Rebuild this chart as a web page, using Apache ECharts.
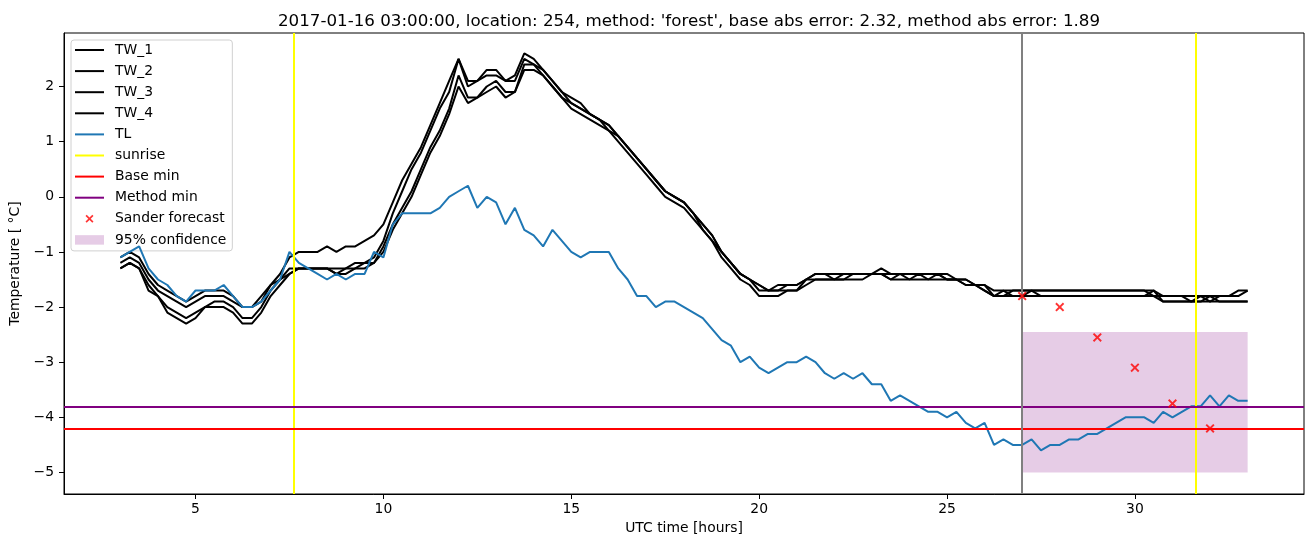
<!DOCTYPE html>
<html><head><meta charset="utf-8">
<script src="https://cdn.jsdelivr.net/npm/echarts@6/dist/echarts.min.js"></script>
<style>html,body{margin:0;padding:0;background:#fff}#chart{width:1313px;height:547px}</style>
</head><body><div id="chart"></div>
<script>
const hours = [3,3.25,3.5,3.75,4,4.25,4.5,4.75,5,5.25,5.5,5.75,6,6.25,6.5,6.75,7,7.25,7.5,7.75,8,8.25,8.5,8.75,9,9.25,9.5,9.75,10,10.25,10.5,10.75,11,11.25,11.5,11.75,12,12.25,12.5,12.75,13,13.25,13.5,13.75,14,14.25,14.5,14.75,15,15.25,15.5,15.75,16,16.25,16.5,16.75,17,17.25,17.5,17.75,18,18.25,18.5,18.75,19,19.25,19.5,19.75,20,20.25,20.5,20.75,21,21.25,21.5,21.75,22,22.25,22.5,22.75,23,23.25,23.5,23.75,24,24.25,24.5,24.75,25,25.25,25.5,25.75,26,26.25,26.5,26.75,27,27.25,27.5,27.75,28,28.25,28.5,28.75,29,29.25,29.5,29.75,30,30.25,30.5,30.75,31,31.25,31.5,31.75,32,32.25,32.5,32.75,33];

const tw1 = [-1.1,-1.0,-1.1,-1.4,-1.6,-1.7,-1.8,-1.9,-1.8,-1.7,
  -1.7,-1.7,-1.8,-2.0,-2.0,-1.8,-1.6,-1.4,-1.1,-1.0,
  -1.0,-1.0,-0.9,-1.0,-0.9,-0.9,-0.8,-0.7,-0.5,-0.1,
  0.3,0.6,0.9,1.3,1.7,2.1,2.5,2.1,2.1,2.3,
  2.3,2.1,2.2,2.6,2.5,2.3,2.1,1.9,1.8,1.7,
  1.5,1.4,1.3,1.1,0.9,0.7,0.5,0.3,0.1,0.0,
  -0.1,-0.3,-0.5,-0.7,-1.0,-1.2,-1.4,-1.5,-1.6,-1.7,
  -1.6,-1.6,-1.6,-1.5,-1.4,-1.4,-1.4,-1.4,-1.4,-1.4,
  -1.4,-1.3,-1.4,-1.4,-1.4,-1.4,-1.4,-1.4,-1.4,-1.5,
  -1.5,-1.6,-1.6,-1.7,-1.7,-1.7,-1.7,-1.7,-1.7,-1.7,
  -1.7,-1.7,-1.7,-1.7,-1.7,-1.7,-1.7,-1.7,-1.7,-1.7,
  -1.7,-1.8,-1.8,-1.8,-1.8,-1.8,-1.8,-1.8,-1.8,-1.7,-1.7];

const tw2 = [-1.2,-1.1,-1.2,-1.5,-1.7,-1.8,-1.9,-2.0,-1.9,-1.8,
  -1.8,-1.8,-1.9,-2.0,-2.0,-1.9,-1.6,-1.5,-1.3,-1.3,
  -1.3,-1.3,-1.3,-1.3,-1.3,-1.2,-1.2,-1.1,-0.8,-0.3,
  0.1,0.5,0.8,1.2,1.6,1.9,2.5,2.0,2.1,2.2,
  2.2,2.1,2.1,2.5,2.4,2.3,2.1,1.9,1.7,1.6,
  1.5,1.4,1.3,1.1,0.9,0.7,0.5,0.3,0.1,0.0,
  -0.1,-0.3,-0.5,-0.7,-1.0,-1.2,-1.4,-1.5,-1.6,-1.7,
  -1.7,-1.6,-1.6,-1.5,-1.4,-1.4,-1.5,-1.4,-1.4,-1.4,
  -1.4,-1.4,-1.5,-1.4,-1.4,-1.4,-1.4,-1.4,-1.5,-1.5,
  -1.5,-1.6,-1.6,-1.8,-1.8,-1.7,-1.7,-1.7,-1.7,-1.7,
  -1.7,-1.7,-1.7,-1.7,-1.7,-1.7,-1.7,-1.7,-1.7,-1.7,
  -1.8,-1.8,-1.8,-1.8,-1.9,-1.8,-1.9,-1.8,-1.8,-1.8,-1.7];

const tw3 = [-1.3,-1.2,-1.3,-1.6,-1.8,-2.0,-2.1,-2.2,-2.1,-2.0,
  -1.9,-1.9,-2.0,-2.2,-2.2,-2.0,-1.7,-1.5,-1.4,-1.3,
  -1.3,-1.3,-1.3,-1.4,-1.3,-1.3,-1.2,-1.2,-0.9,-0.5,
  -0.2,0.1,0.5,0.9,1.2,1.6,2.2,1.8,1.8,2.0,
  2.1,1.9,1.9,2.4,2.4,2.2,2.0,1.8,1.7,1.6,
  1.5,1.4,1.2,1.1,0.9,0.7,0.5,0.3,0.1,0.0,
  -0.1,-0.3,-0.6,-0.8,-1.0,-1.2,-1.4,-1.5,-1.7,-1.7,
  -1.7,-1.7,-1.7,-1.5,-1.5,-1.5,-1.5,-1.5,-1.4,-1.4,
  -1.4,-1.4,-1.4,-1.4,-1.5,-1.4,-1.5,-1.4,-1.5,-1.5,
  -1.6,-1.6,-1.7,-1.8,-1.7,-1.8,-1.8,-1.7,-1.8,-1.8,
  -1.8,-1.8,-1.8,-1.8,-1.8,-1.8,-1.8,-1.8,-1.8,-1.8,
  -1.7,-1.9,-1.9,-1.9,-1.9,-1.9,-1.8,-1.9,-1.9,-1.9,-1.9];

const tw4 = [-1.3,-1.2,-1.3,-1.7,-1.8,-2.1,-2.2,-2.3,-2.2,-2.0,
  -2.0,-2.0,-2.1,-2.3,-2.3,-2.1,-1.8,-1.6,-1.4,-1.3,
  -1.3,-1.3,-1.3,-1.4,-1.4,-1.3,-1.3,-1.2,-1.0,-0.6,
  -0.3,0.0,0.4,0.8,1.1,1.5,2.0,1.7,1.8,1.9,
  2.0,1.8,1.9,2.3,2.3,2.2,2.0,1.8,1.6,1.5,
  1.4,1.3,1.2,1.0,0.8,0.6,0.4,0.2,0.0,-0.1,
  -0.2,-0.4,-0.6,-0.8,-1.1,-1.3,-1.5,-1.6,-1.8,-1.8,
  -1.8,-1.7,-1.7,-1.6,-1.5,-1.5,-1.5,-1.5,-1.5,-1.5,
  -1.4,-1.4,-1.5,-1.5,-1.5,-1.5,-1.5,-1.5,-1.5,-1.5,
  -1.6,-1.6,-1.7,-1.8,-1.8,-1.8,-1.8,-1.8,-1.8,-1.8,
  -1.8,-1.8,-1.8,-1.8,-1.8,-1.8,-1.8,-1.8,-1.8,-1.8,
  -1.8,-1.9,-1.9,-1.9,-1.9,-1.9,-1.9,-1.9,-1.9,-1.9,-1.9];

const tl = [-1.1,-1.0,-0.9,-1.3,-1.5,-1.6,-1.8,-1.9,-1.7,-1.7,
  -1.7,-1.6,-1.8,-2.0,-2.0,-1.9,-1.7,-1.5,-1.0,-1.2,
  -1.3,-1.4,-1.5,-1.4,-1.5,-1.4,-1.4,-1.0,-1.1,-0.5,
  -0.3,-0.3,-0.3,-0.3,-0.2,0.0,0.1,0.2,-0.2,0.0,
  -0.1,-0.5,-0.2,-0.6,-0.7,-0.9,-0.6,-0.8,-1.0,-1.1,
  -1.0,-1.0,-1.0,-1.3,-1.5,-1.8,-1.8,-2.0,-1.9,-1.9,
  -2.0,-2.1,-2.2,-2.4,-2.6,-2.7,-3.0,-2.9,-3.1,-3.2,
  -3.1,-3.0,-3.0,-2.9,-3.0,-3.2,-3.3,-3.2,-3.3,-3.2,
  -3.4,-3.4,-3.7,-3.6,-3.7,-3.8,-3.9,-3.9,-4.0,-3.9,
  -4.1,-4.2,-4.1,-4.5,-4.4,-4.5,-4.5,-4.4,-4.6,-4.5,
  -4.5,-4.4,-4.4,-4.3,-4.3,-4.2,-4.1,-4.0,-4.0,-4.0,
  -4.1,-3.9,-4.0,-3.9,-3.8,-3.8,-3.6,-3.8,-3.6,-3.7,-3.7];

const forecastHours = [27, 28, 29, 30, 31, 32];
const forecastValues = [-1.8, -2.0, -2.55, -3.1, -3.75, -4.2];
const sunriseHours = [7.62, 31.63];
const forecastStartHour = 27;
const baseMin = -4.2;
const methodMin = -3.8;
const confidenceHours = [27, 33];
const confidenceRange = [-5.0, -2.45];
const xTicks = [5, 10, 15, 20, 25, 30];
const yTicks = [-5, -4, -3, -2, -1, 0, 1, 2];
const titleText = "2017-01-16 03:00:00, location: 254, method: 'forest', base abs error: 2.32, method abs error: 1.89";

const FONT = 'DejaVu Sans';
const pair = arr => hours.map((h, i) => [h, arr[i]]);
const fmt = v => (v < 0 ? '\u2212' + Math.abs(v) : String(v));
const xPath = 'path://M0,1.5L1.5,0L5,3.5L8.5,0L10,1.5L6.5,5L10,8.5L8.5,10L5,6.5L1.5,10L0,8.5L3.5,5Z';
const xLegendPath = 'path://M-13,-3.75L-13,-3.75M23,13.75L23,13.75M0,1.5L1.5,0L5,3.5L8.5,0L10,1.5L6.5,5L10,8.5L8.5,10L5,6.5L1.5,10L0,8.5L3.5,5Z';
const rectLegendPath = 'path://M0,0L0,0M0,14L0,14M0,2.25H29V11.75H0Z';
const lineLegendPath = 'path://M0,0L0,0M0,14L0,14M0,6H29V8H0Z';

function lineSeries(name, arr, color, z) {
  return { name, type: 'line', data: pair(arr), symbol: 'none', z,
    lineStyle: { color, width: 2 }, itemStyle: { color }, animation: false, silent: true };
}
function markSeries(name, color, markData, z) {
  return { name, type: 'line', data: [], symbol: 'none', z,
    lineStyle: { color, width: 2 }, itemStyle: { color }, animation: false, silent: true,
    markLine: { symbol: ['none', 'none'], silent: true, animation: false, label: { show: false },
      lineStyle: { color, width: 2, type: 'solid' }, emphasis: { disabled: true }, data: markData } };
}

const chart = echarts.init(document.getElementById('chart'), null, { renderer: 'canvas' });
chart.setOption({
  backgroundColor: '#fff',
  animation: false,
  title: { text: titleText, left: 684, textAlign: 'center', top: 8,
    textStyle: { fontFamily: FONT, fontSize: 16.7, fontWeight: 'normal', color: '#000' } },
  grid: { left: 64, right: 9, top: 33, bottom: 53, show: true, borderColor: '#000', borderWidth: 1, backgroundColor: 'transparent' },
  legend: {
    orient: 'vertical', left: 71, top: 40, padding: [3, 6, 4, 4],
    itemWidth: 29, itemHeight: 14, itemGap: 7.1,
    backgroundColor: 'rgba(255,255,255,0.8)', borderColor: '#d0d0d0', borderWidth: 1, borderRadius: 3,
    textStyle: { fontFamily: FONT, fontSize: 13.9, color: '#000', lineHeight: 14, padding: [0, 0, 0, 6] },
    selectedMode: false,
    data: [
      { name: 'TW_1', icon: lineLegendPath }, { name: 'TW_2', icon: lineLegendPath },
      { name: 'TW_3', icon: lineLegendPath }, { name: 'TW_4', icon: lineLegendPath },
      { name: 'TL', icon: lineLegendPath }, { name: 'sunrise', icon: lineLegendPath },
      { name: 'Base min', icon: lineLegendPath }, { name: 'Method min', icon: lineLegendPath },
      { name: 'Sander forecast', icon: xLegendPath },
      { name: '95% confidence', icon: rectLegendPath }
    ]
  },
  xAxis: {
    type: 'value', min: 1.5, max: 34.5,
    name: 'UTC time [hours]', nameLocation: 'middle', nameGap: 27,
    nameTextStyle: { fontFamily: FONT, fontSize: 13.9, color: '#000' },
    axisLine: { show: true, onZero: false, lineStyle: { color: '#000', width: 1 } },
    axisTick: { show: true, length: 5, inside: false, customValues: xTicks, lineStyle: { color: '#000', width: 1 } },
    axisLabel: { customValues: xTicks, color: '#000', fontFamily: FONT, fontSize: 13.9, margin: 8, formatter: fmt },
    splitLine: { show: false }
  },
  yAxis: {
    type: 'value', min: -5.39, max: 2.97,
    name: 'Temperature [ °C]', nameLocation: 'middle', nameGap: 32, nameRotate: 90,
    nameTextStyle: { fontFamily: FONT, fontSize: 13.9, color: '#000' },
    axisLine: { show: true, onZero: false, lineStyle: { color: '#000', width: 1 } },
    axisTick: { show: true, length: 5, inside: false, customValues: yTicks, lineStyle: { color: '#000', width: 1 } },
    axisLabel: { customValues: yTicks, color: '#000', fontFamily: FONT, fontSize: 13.9, margin: 10, formatter: fmt },
    splitLine: { show: false }
  },
  series: [
    { name: '95% confidence', type: 'line', data: [], symbol: 'none', z: 1, animation: false, silent: true,
      itemStyle: { color: 'rgba(128,0,128,0.2)' }, lineStyle: { color: 'rgba(128,0,128,0.2)' },
      markArea: { silent: true, animation: false, itemStyle: { color: 'rgba(128,0,128,0.2)' },
        data: [[{ coord: [confidenceHours[0], confidenceRange[0]] }, { coord: [confidenceHours[1], confidenceRange[1]] }]] } },
    lineSeries('TW_1', tw1, '#000', 3),
    lineSeries('TW_2', tw2, '#000', 3),
    lineSeries('TW_3', tw3, '#000', 3),
    lineSeries('TW_4', tw4, '#000', 3),
    lineSeries('TL', tl, '#1f77b4', 4),
    markSeries('sunrise', '#ffff00', sunriseHours.map(h => ({ xAxis: h })), 5),
    markSeries('Base min', '#ff0000', [{ yAxis: baseMin }], 5),
    markSeries('Method min', '#800080', [{ yAxis: methodMin }], 5),
    { name: 'Sander forecast', type: 'scatter', z: 6, animation: false, silent: true,
      data: forecastHours.map((h, i) => [h, forecastValues[i]]),
      symbol: xPath, symbolSize: 9, itemStyle: { color: '#ff0000' } },
    markSeries('forecast start', '#808080', [{ xAxis: forecastStartHour }], 5)
  ]
});
</script></body></html>
